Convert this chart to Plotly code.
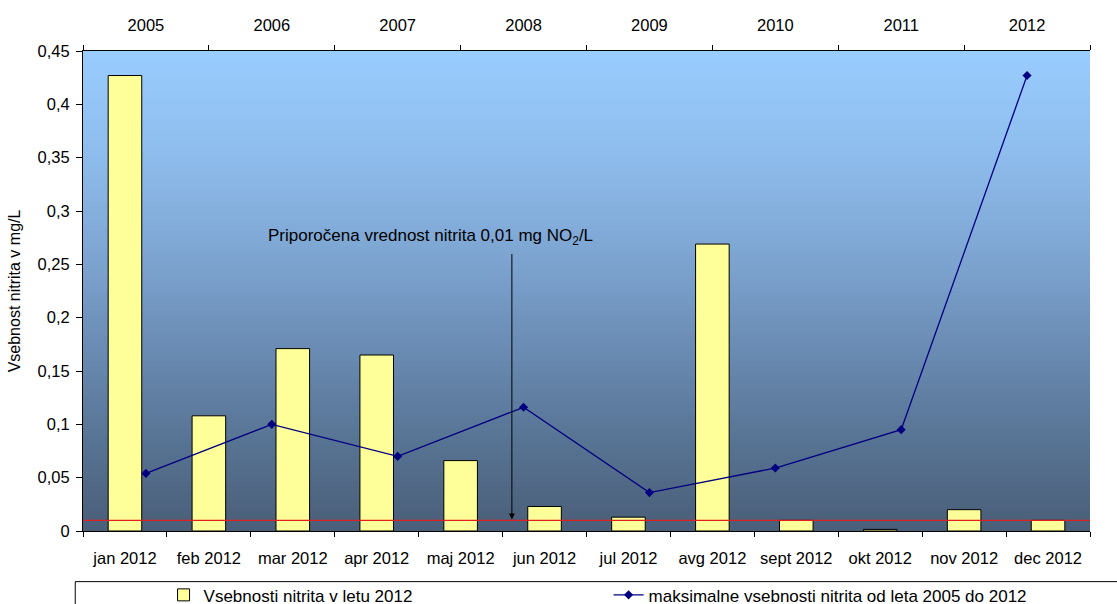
import plotly.graph_objects as go

months = ["jan 2012", "feb 2012", "mar 2012", "apr 2012", "maj 2012", "jun 2012",
          "jul 2012", "avg 2012", "sept 2012", "okt 2012", "nov 2012", "dec 2012"]
nitrite_2012 = [0.427, 0.108, 0.171, 0.165, 0.066, 0.023, 0.013, 0.269, 0.010, 0.0015, 0.020, 0.010]

years = ["2005", "2006", "2007", "2008", "2009", "2010", "2011", "2012"]
max_nitrite = [0.054, 0.100, 0.070, 0.116, 0.036, 0.059, 0.095, 0.427]

recommended = 0.01
y_ticks = [0, 0.05, 0.1, 0.15, 0.2, 0.25, 0.3, 0.35, 0.4, 0.45]

FONT = "Liberation Sans"
NARROW = "Liberation Sans Narrow, Liberation Sans, Arial"

fig = go.Figure()
fig.add_trace(go.Bar(
    x=months, y=nitrite_2012, name="Vsebnosti nitrita v letu 2012",
    marker=dict(color="#FFFF99", line=dict(color="#000000", width=1)),
    xaxis="x", yaxis="y",
))
fig.add_trace(go.Scatter(
    x=years, y=max_nitrite, name="maksimalne vsebnosti nitrita od leta 2005 do 2012",
    mode="lines+markers",
    line=dict(color="#000080", width=1.3),
    marker=dict(symbol="diamond", size=7, color="#000080"),
    xaxis="x2", yaxis="y",
))

# background gradient
stops = [(0.0, (153, 204, 255)), (0.2, (143, 190, 238)), (0.41, (127, 167, 212)),
         (0.62, (106, 139, 179)), (0.81, (88, 116, 148)), (1.0, (74, 94, 120))]

def col(f):
    for (f0, c0), (f1, c1) in zip(stops[:-1], stops[1:]):
        if f0 <= f <= f1:
            t = (f - f0) / (f1 - f0)
            return "rgb(%d,%d,%d)" % tuple(round(a + (b - a) * t) for a, b in zip(c0, c1))
    return "rgb(%d,%d,%d)" % stops[-1][1]

shapes = []
N = 96
for i in range(N):
    top = 1 - i / N
    bot = 1 - (i + 1) / N
    shapes.append(dict(type="rect", xref="paper", yref="paper", x0=0, x1=1,
                       y0=bot - 0.001, y1=top, fillcolor=col((i + 0.5) / N),
                       line=dict(width=0), layer="below"))
# recommended value line
shapes.append(dict(type="line", xref="paper", yref="y", x0=0, x1=1,
                   y0=recommended, y1=recommended,
                   line=dict(color="#E02020", width=1.2), layer="above"))
# legend box
shapes.append(dict(type="rect", xref="paper", yref="paper", x0=-0.0077, x1=1.1,
                   y0=-0.25, y1=-0.1055, line=dict(color="#000000", width=1),
                   fillcolor="rgba(0,0,0,0)"))

annotations = [
    dict(text="Priporočena vrednost nitrita 0,01 mg NO<sub>2</sub>/L",
         xref="paper", yref="y", x=0.3455, y=0.2756, showarrow=False,
         font=dict(family=NARROW, size=17, color="#000000")),
    dict(text="", xref="paper", yref="y", x=0.4259, y=0.0108,
         ax=0, ay=-267, showarrow=True, arrowhead=2, arrowsize=1.2,
         arrowwidth=1, arrowcolor="#000000"),
]

tickfont = dict(family=FONT, size=16.5, color="#000000")

fig.update_layout(
    width=1117, height=604,
    margin=dict(l=83, r=27, t=51, b=73, autoexpand=False),
    paper_bgcolor="#FFFFFF",
    plot_bgcolor="#4A5E78",
    separators=", ",
    bargap=0.6,
    shapes=shapes,
    annotations=annotations,
    showlegend=True,
    legend=dict(orientation="h", x=0.08, xanchor="left", y=-0.0965, yanchor="top",
                bgcolor="rgba(0,0,0,0)", borderwidth=0,
                entrywidth=400, entrywidthmode="pixels",
                font=dict(family=NARROW, size=17, color="#000000")),
    xaxis=dict(type="category", categoryorder="array", categoryarray=months,
               tickson="boundaries", ticks="outside", ticklen=5, tickcolor="#000000",
               showline=True, linecolor="#000000", linewidth=1, showgrid=False,
               tickfont=tickfont, ticklabelstandoff=12, anchor="y", zeroline=False),
    xaxis2=dict(type="category", categoryorder="array", categoryarray=years,
                overlaying="x", side="top", anchor="y",
                tickson="boundaries", ticks="outside", ticklen=5, tickcolor="#000000",
                showline=True, linecolor="#000000", linewidth=1, showgrid=False,
                tickfont=tickfont, ticklabelstandoff=12, range=[-0.5, 7.5]),
    xaxis3=dict(type="linear", overlaying="x", side="bottom", anchor="y",
                range=[0, 12], tickmode="linear", tick0=0, dtick=1,
                ticks="inside", ticklen=5, tickcolor="#000000",
                showticklabels=False, showline=False, showgrid=False, zeroline=False),
    xaxis4=dict(type="linear", overlaying="x", side="top", anchor="y",
                range=[0, 8], tickmode="linear", tick0=0, dtick=1,
                ticks="inside", ticklen=5, tickcolor="#000000",
                showticklabels=False, showline=False, showgrid=False, zeroline=False),
    yaxis=dict(range=[0, 0.45], tickmode="array", tickvals=y_ticks,
               ticks="outside", ticklen=6, tickcolor="#000000",
               showline=True, linecolor="#000000", linewidth=1, showgrid=False,
               zeroline=False, tickfont=tickfont, ticklabelstandoff=3,
               title=dict(text="Vsebnost nitrita v mg/L", standoff=12,
                          font=dict(family=FONT, size=16, color="#000000"))),
    yaxis2=dict(range=[0, 0.45], overlaying="y", side="left", anchor="x",
                tickmode="array", tickvals=y_ticks,
                ticks="inside", ticklen=5, tickcolor="#000000",
                showticklabels=False, showline=False, showgrid=False, zeroline=False),
)

fig.write_html("out.html")
